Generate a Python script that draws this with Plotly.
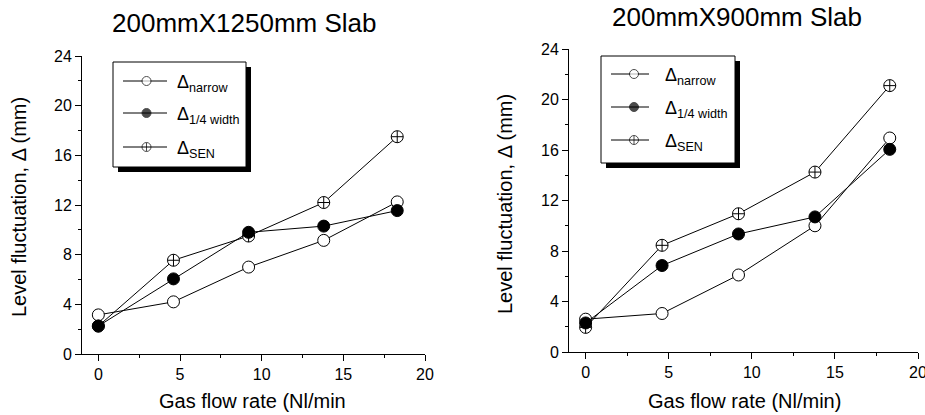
import plotly.graph_objects as go

W, H = 925, 415
FONT = "Liberation Sans, Arial, sans-serif"

# ---------------- data ----------------
gas_flow = [0, 4.6, 9.2, 13.8, 18.3]
narrow_1250 = [3.15, 4.2, 7.0, 9.15, 12.25]
quarter_1250 = [2.25, 6.05, 9.8, 10.3, 11.55]
sen_1250 = [2.25, 7.55, 9.5, 12.2, 17.5]

narrow_900 = [2.6, 3.05, 6.1, 10.0, 16.95]
quarter_900 = [2.3, 6.85, 9.35, 10.7, 16.05]
sen_900 = [1.95, 8.45, 10.95, 14.25, 21.1]

titles = ["200mmX1250mm Slab", "200mmX900mm Slab"]
x_titles = ["Gas flow rate (Nl/min", "Gas flow rate (Nl/min)"]
y_title = "Level fluctuation, \u0394 (mm)"
legend_subs = ["narrow", "1/4 width", "SEN"]

x_ticks = [0, 5, 10, 15, 20]
y_ticks = [0, 4, 8, 12, 16, 20, 24]

# ---------------- styles ----------------
styles = {
    "narrow": dict(symbol="circle", color="white"),
    "1/4 width": dict(symbol="circle", color="black"),
    "SEN": dict(symbol="circle-cross", color="white"),
}


def px_x(p):
    return p / W


def px_y(p):
    return 1 - p / H


fig = go.Figure()

panels = [
    dict(series=[("narrow", narrow_1250), ("SEN", sen_1250), ("1/4 width", quarter_1250)],
         xpx=(82, 425), ypx=(56, 354), box=(113, 62, 246, 167),
         legend_rows=(81, 113, 147), line_x=(10, 54), mark_x=33.5, text_x=62,
         title_c=(244, 23), xt_c=(253, 401), yt_c=(19, 207)),
    dict(series=[("narrow", narrow_900), ("SEN", sen_900), ("1/4 width", quarter_900)],
         xpx=(569, 918), ypx=(49, 352), box=(601, 56, 735, 163),
         legend_rows=(74, 107, 140), line_x=(10, 48), mark_x=33, text_x=62,
         title_c=(737, 17), xt_c=(744, 401), yt_c=(505, 204)),
]

annotations = []
shapes = []
layout_axes = {}

for i, p in enumerate(panels):
    xa = "x" if i == 0 else "x2"
    ya = "y" if i == 0 else "y2"
    for name, vals in p["series"]:
        st = styles[name]
        fig.add_trace(go.Scatter(
            x=gas_flow, y=vals, mode="lines+markers", xaxis=xa, yaxis=ya,
            line=dict(color="black", width=1),
            marker=dict(symbol=st["symbol"], color=st["color"], size=12,
                        line=dict(color="black", width=1)),
            showlegend=False, cliponaxis=False,
        ))
    n = i + 1
    xkey = "xaxis" if n == 1 else f"xaxis{n}"
    ykey = "yaxis" if n == 1 else f"yaxis{n}"
    layout_axes[xkey] = dict(
        domain=[px_x(p["xpx"][0]), px_x(p["xpx"][1])], range=[-1, 20],
        anchor=ya, showgrid=False, zeroline=False, showline=True, automargin=False,
        ticklabeloverflow="allow",
        linecolor="black", linewidth=1, ticks="outside", ticklen=6,
        tickwidth=1, tickcolor="black", tickvals=x_ticks,
        tickfont=dict(family=FONT, size=16, color="black"),
        minor=dict(ticks="outside", ticklen=3, tickcolor="black", dtick=2.5, tick0=0),
    )
    layout_axes[ykey] = dict(
        domain=[px_y(p["ypx"][1]), px_y(p["ypx"][0])], range=[0, 24],
        anchor=xa, showgrid=False, zeroline=False, showline=True, automargin=False,
        ticklabeloverflow="allow",
        linecolor="black", linewidth=1, ticks="outside", ticklen=6,
        tickwidth=1, tickcolor="black", tickvals=y_ticks,
        tickfont=dict(family=FONT, size=16, color="black"),
        minor=dict(ticks="outside", ticklen=3, tickcolor="black", dtick=2, tick0=0),
    )

    # legend: shadow + box
    bx0, by0, bx1, by1 = p["box"]
    shapes.append(dict(type="rect", xref="paper", yref="paper", layer="below",
                       x0=px_x(bx0 + 5), x1=px_x(bx1 + 5), y0=px_y(by1 + 5), y1=px_y(by0 + 5),
                       fillcolor="black", line=dict(width=0)))
    shapes.append(dict(type="rect", xref="paper", yref="paper", layer="below",
                       x0=px_x(bx0), x1=px_x(bx1), y0=px_y(by1), y1=px_y(by0),
                       fillcolor="white", line=dict(color="black", width=1)))
    # legend sample axes (pixel units inside the box)
    ln = 3 + i
    lxa, lya = f"x{ln}", f"y{ln}"
    layout_axes[f"xaxis{ln}"] = dict(domain=[px_x(bx0), px_x(bx1)], range=[0, bx1 - bx0],
                                     visible=False, anchor=lya, fixedrange=True,
                                     automargin=False)
    layout_axes[f"yaxis{ln}"] = dict(domain=[px_y(by1), px_y(by0)], range=[by1 - by0, 0],
                                     visible=False, anchor=lxa, fixedrange=True,
                                     automargin=False)
    for row_y, sub in zip(p["legend_rows"], legend_subs):
        st = styles[sub]
        ry = row_y - by0
        fig.add_trace(go.Scatter(
            x=[p["line_x"][0], p["mark_x"], p["line_x"][1]], y=[ry, ry, ry],
            mode="lines+markers", xaxis=lxa, yaxis=lya, showlegend=False,
            line=dict(color="black", width=1),
            marker=dict(symbol=st["symbol"], color=st["color"], size=[0, 9, 0],
                        line=dict(color="black", width=1)),
            cliponaxis=False, hoverinfo="skip",
        ))
        annotations.append(dict(
            xref=lxa, yref=lya, x=p["text_x"], y=ry, xanchor="left", yanchor="middle",
            text=f"\u0394<sub>{sub}</sub>", showarrow=False, yshift=-3,
            font=dict(family=FONT, size=18, color="black"),
        ))

    # titles
    annotations.append(dict(xref="paper", yref="paper", x=px_x(p["title_c"][0]),
                            y=px_y(p["title_c"][1]), xanchor="center", yanchor="middle",
                            text=titles[i], showarrow=False,
                            font=dict(family=FONT, size=26, color="black")))
    annotations.append(dict(xref="paper", yref="paper", x=px_x(p["xt_c"][0]),
                            y=px_y(p["xt_c"][1]), xanchor="center", yanchor="middle",
                            text=x_titles[i], showarrow=False,
                            font=dict(family=FONT, size=20, color="black")))
    annotations.append(dict(xref="paper", yref="paper", x=px_x(p["yt_c"][0]),
                            y=px_y(p["yt_c"][1]), xanchor="center", yanchor="middle",
                            text=y_title, showarrow=False, textangle=-90,
                            font=dict(family=FONT, size=20, color="black")))

fig.update_layout(
    width=W, height=H, margin=dict(l=0, r=0, t=0, b=0, autoexpand=False),
    paper_bgcolor="white", plot_bgcolor="rgba(0,0,0,0)",
    showlegend=False, annotations=annotations, shapes=shapes,
    font=dict(family=FONT, color="black"),
    **layout_axes,
)

fig.write_html("out.html")
